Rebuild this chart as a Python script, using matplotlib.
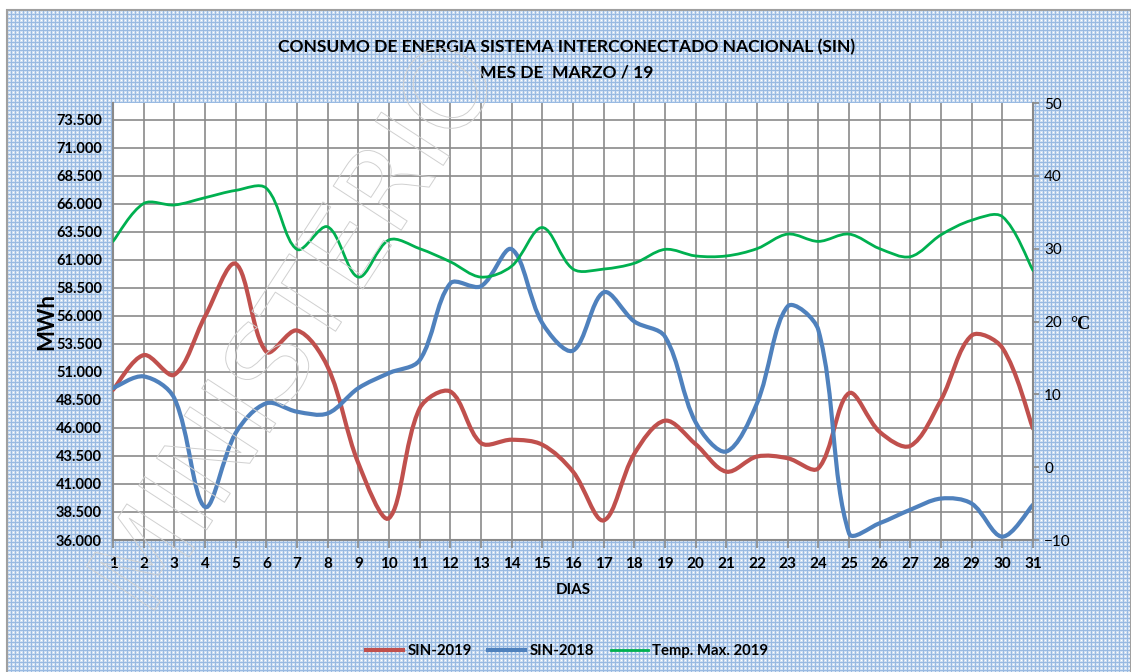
"""
Consumo de energia del SIN, marzo 2019, con la temperatura maxima en eje secundario.
"""

import numpy as np
import matplotlib.pyplot as plt
from matplotlib.path import Path
from matplotlib.patches import PathPatch, Rectangle
from matplotlib.lines import Line2D
import matplotlib.patheffects as pe

# datos
dias = list(range(1, 32))
sin_2019 = [49400, 52500, 50750, 55950, 60650, 52800, 54700, 51450, 42850, 37950,
            47750, 49250, 44650, 44950, 44500, 42100, 37750, 43700, 46650, 44550,
            42100, 43450, 43300, 42400, 49100, 45650, 44400, 48500, 54250, 53150, 45950]
sin_2018 = [49550, 50600, 48650, 38950, 45550, 48200, 47450, 47300, 49550, 50900,
            52050, 58900, 58650, 61950, 55350, 52900, 58100, 55500, 54150, 46500,
            43900, 48200, 56850, 54750, 36600, 37500, 38700, 39700, 39250, 36300, 39150]
temp_max_2019 = [31.0, 36.2, 36.0, 37.0, 38.0, 38.3, 29.9, 33.0, 26.1, 31.2,
                 30.0, 28.2, 26.1, 27.6, 32.9, 27.2, 27.2, 28.0, 29.9, 29.0,
                 29.0, 30.0, 32.0, 31.0, 32.0, 30.0, 28.9, 31.9, 33.9, 34.4, 27.0]

etiquetas = ['SIN-2019', 'SIN-2018', 'Temp. Max. 2019']
colores = ['#c0504d', '#4f81bd', '#00b050']

plt.rcParams['font.family'] = ['Lato', 'DejaVu Sans']


def curva_suave(x, y, sx, sy):
    """
    Curva Bezier tipo "linea suavizada" de Excel que pasa por todos los puntos.
    sx, sy: pixeles por unidad, para medir los tramos en pantalla.
    """
    pts = np.column_stack([x, y]).astype(float)
    esc = np.array([sx, sy])
    n = len(pts)
    largo = [np.hypot(*((pts[i + 1] - pts[i]) * esc)) for i in range(n - 1)]
    verts = [pts[0]]
    codes = [Path.MOVETO]
    for i in range(n - 1):
        p0 = pts[max(i - 1, 0)]
        p1 = pts[i]
        p2 = pts[i + 1]
        p3 = pts[min(i + 2, n - 1)]
        d01 = largo[i - 1] if i > 0 else largo[i]
        d12 = largo[i]
        d23 = largo[i + 1] if i + 1 < n - 1 else largo[i]
        f1 = d12 / (d01 + d12) / 3
        f2 = d12 / (d12 + d23) / 3
        verts += [p1 + (p2 - p0) * f1, p2 - (p3 - p1) * f2, p2]
        codes += [Path.CURVE4] * 3
    return Path(verts, codes)


fig = plt.figure(figsize=(11.31, 6.72), dpi=100)
fig.patch.set_facecolor('white')

# fondo con textura de cuadricula azul
h, w = 662, 1124
yy, xx = np.mgrid[0:h, 0:w]
fondo = np.ones((h, w, 3)) * np.array([0.82, 0.88, 0.95])
fondo[(yy % 4 == 0) | (xx % 4 == 0)] = [0.60, 0.73, 0.89]
fondo[(yy % 4 == 2) & (xx % 4 == 2)] = [1.0, 1.0, 1.0]
fig.figimage(fondo, xo=7, yo=0, zorder=-10)
fig.patches.append(Rectangle((7 / 1131, -0.01), 1124 / 1131, 662 / 672 + 0.01,
                             transform=fig.transFigure, fill=False,
                             edgecolor='#a0a0a0', lw=1.5, zorder=-5))

ax = fig.add_axes([113 / 1131, 1 - 540 / 672, 920 / 1131, 437 / 672])
ax.set_facecolor('white')
ax.set_xlim(1, 31)
ax.set_ylim(36000, 75000)
ax.set_xticks(dias)
ax.set_xticklabels([str(d) for d in dias], fontweight='bold', fontsize=11)
yt = np.arange(36000, 74000, 2500)
ax.set_yticks(yt)
ax.set_yticklabels([f"{v:,.0f}".replace(',', '.') for v in yt], fontweight='bold', fontsize=10.5)
ax.grid(True, color='#8a8a8a', lw=1.2)
ax.tick_params(axis='x', length=6, width=1.2, color='#8a8a8a', pad=6)
ax.tick_params(axis='y', length=0, pad=8)
for lado in ['top', 'right']:
    ax.spines[lado].set_visible(False)
for lado in ['left', 'bottom']:
    ax.spines[lado].set_color('#8a8a8a')
    ax.spines[lado].set_linewidth(1.5)
ax.set_xlabel('DIAS', fontweight='bold', fontsize=11, labelpad=9)
ax.set_ylabel('MWh', fontweight='bold', fontsize=16, labelpad=-1)

sx = 920 / 30
ax.add_patch(PathPatch(curva_suave(dias, sin_2019, sx, 28 / 2500), fill=False,
                       edgecolor=colores[0], lw=3, capstyle='round', zorder=3))
ax.add_patch(PathPatch(curva_suave(dias, sin_2018, sx, 28 / 2500), fill=False,
                       edgecolor=colores[1], lw=3, capstyle='round', zorder=3))

ax2 = ax.twinx()
ax2.set_ylim(-10, 50)
ax2.set_yticks(range(-10, 51, 10))
ax2.tick_params(axis='y', length=4, width=1.2, color='#8a8a8a', labelsize=11, pad=4)
for lado in ['top', 'left', 'bottom']:
    ax2.spines[lado].set_visible(False)
ax2.spines['right'].set_color('#8a8a8a')
ax2.spines['right'].set_linewidth(1.5)
ax2.add_patch(PathPatch(curva_suave(dias, temp_max_2019, sx, 437 / 60), fill=False,
                        edgecolor=colores[2], lw=2, capstyle='round', zorder=3))
fig.text(1080 / 1131, 1 - 324 / 672, '°C', fontsize=13, fontweight='bold',
         family='Liberation Serif', ha='center', va='center')

# titulo
fig.text(567 / 1131, 1 - 47 / 672, 'CONSUMO DE ENERGIA SISTEMA INTERCONECTADO NACIONAL (SIN)',
         ha='center', va='center', fontweight='bold', fontsize=12.6)
fig.text(567 / 1131, 1 - 72 / 672, 'MES DE  MARZO / 19',
         ha='center', va='center', fontweight='bold', fontsize=12.6)

# marca de agua
fig.text(300 / 1131, 1 - 330 / 672, 'MINISTERIO', fontsize=80, rotation=57,
         ha='center', va='center', color=(1, 1, 1, 0), family='DejaVu Sans',
         path_effects=[pe.withStroke(linewidth=0.7, foreground='#d0d0d0')], zorder=5)

manejadores = [Line2D([], [], color=c, lw=3 if i < 2 else 2) for i, c in enumerate(colores)]
fig.legend(manejadores, etiquetas, loc='center', bbox_to_anchor=(567 / 1131, 1 - 651 / 672),
           ncol=3, frameon=False, handlelength=2.5, columnspacing=1.1, handletextpad=0.3,
           prop={'weight': 'bold', 'size': 10.7})

fig.savefig('out.png', dpi=100)
